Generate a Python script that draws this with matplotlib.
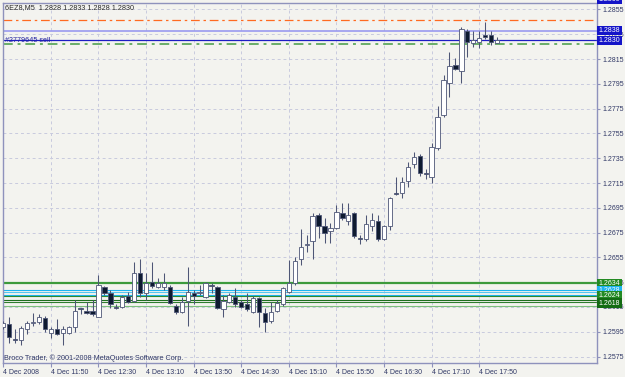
import matplotlib
matplotlib.use('Agg')
import matplotlib.pyplot as plt
from matplotlib.transforms import blended_transform_factory

# ---------------- data ----------------
symbol_title = "6EZ8,M5  1.2828 1.2833 1.2828 1.2830"
order_label = "#2779645 sell"
copyright_text = "Broco Trader, \u00a9 2001-2008 MetaQuotes Software Corp."

opens = [1.2599, 1.2601, 1.2589, 1.2588, 1.2597, 1.2602, 1.2603, 1.2606, 1.2594, 1.2597,
         1.2594, 1.2594, 1.2599, 1.2614, 1.2612, 1.2612, 1.2607, 1.2631, 1.2626, 1.2615,
         1.2615, 1.2624, 1.2620, 1.2642, 1.2626, 1.2635, 1.2631, 1.2631, 1.2631, 1.2616,
         1.2611, 1.2620, 1.2626, 1.2626, 1.2623, 1.2633, 1.2631, 1.2613, 1.2619, 1.2623,
         1.2619, 1.2617, 1.2611, 1.2622, 1.2610, 1.2604, 1.2612, 1.2617, 1.2627, 1.2634,
         1.2654, 1.2665, 1.2668, 1.2689, 1.2680, 1.2676, 1.2679, 1.2691, 1.2684, 1.2691,
         1.2671, 1.2670, 1.2680, 1.2684, 1.2670, 1.2680, 1.2707, 1.2707, 1.2717, 1.2730,
         1.2737, 1.2723, 1.2720, 1.2743, 1.2770, 1.2796, 1.2810, 1.2805, 1.2838, 1.2828,
         1.2829, 1.2834, 1.2834, 1.2828]
highs = [1.2604, 1.2607, 1.2597, 1.2600, 1.2604, 1.2610, 1.2609, 1.2608, 1.2599, 1.2605,
         1.2600, 1.2600, 1.2621, 1.2614, 1.2619, 1.2621, 1.2641, 1.2632, 1.2629, 1.2617,
         1.2625, 1.2627, 1.2651, 1.2654, 1.2642, 1.2651, 1.2638, 1.2642, 1.2633, 1.2617,
         1.2623, 1.2647, 1.2629, 1.2633, 1.2635, 1.2634, 1.2632, 1.2625, 1.2626, 1.2630,
         1.2621, 1.2626, 1.2624, 1.2623, 1.2614, 1.2619, 1.2621, 1.2631, 1.2653, 1.2655,
         1.2678, 1.2673, 1.2691, 1.2691, 1.2687, 1.2683, 1.2697, 1.2699, 1.2699, 1.2692,
         1.2673, 1.2689, 1.2691, 1.2689, 1.2681, 1.2704, 1.2720, 1.2720, 1.2732, 1.2740,
         1.2738, 1.2726, 1.2747, 1.2777, 1.2802, 1.2821, 1.2816, 1.2841, 1.2839, 1.2838,
         1.2838, 1.2845, 1.2838, 1.2833]
lows = [1.2597, 1.2586, 1.2586, 1.2584, 1.2593, 1.2600, 1.2601, 1.2595, 1.2590, 1.2592,
        1.2584, 1.2593, 1.2595, 1.2609, 1.2609, 1.2608, 1.2607, 1.2625, 1.2614, 1.2613,
        1.2614, 1.2618, 1.2619, 1.2623, 1.2621, 1.2630, 1.2630, 1.2629, 1.2617, 1.2609,
        1.2610, 1.2600, 1.2617, 1.2625, 1.2622, 1.2626, 1.2613, 1.2607, 1.2618, 1.2615,
        1.2614, 1.2612, 1.2610, 1.2599, 1.2595, 1.2602, 1.2611, 1.2616, 1.2626, 1.2633,
        1.2649, 1.2659, 1.2654, 1.2671, 1.2667, 1.2667, 1.2678, 1.2685, 1.2681, 1.2671,
        1.2666, 1.2668, 1.2676, 1.2668, 1.2669, 1.2677, 1.2705, 1.2703, 1.2712, 1.2727,
        1.2721, 1.2718, 1.2715, 1.2742, 1.2768, 1.2784, 1.2806, 1.2796, 1.2817, 1.2825,
        1.2824, 1.2831, 1.2826, 1.2828]
closes = [1.2602, 1.2591, 1.2588, 1.2598, 1.2602, 1.2603, 1.2607, 1.2597, 1.2597, 1.2593,
          1.2597, 1.2599, 1.2612, 1.2613, 1.2610, 1.2609, 1.2633, 1.2626, 1.2617, 1.2614,
          1.2623, 1.2619, 1.2642, 1.2626, 1.2634, 1.2632, 1.2634, 1.2634, 1.2618, 1.2611,
          1.2619, 1.2627, 1.2624, 1.2627, 1.2634, 1.2632, 1.2614, 1.2620, 1.2625, 1.2617,
          1.2615, 1.2613, 1.2622, 1.2611, 1.2603, 1.2611, 1.2618, 1.2630, 1.2634, 1.2652,
          1.2663, 1.2666, 1.2688, 1.2680, 1.2675, 1.2679, 1.2692, 1.2687, 1.2689, 1.2672,
          1.2670, 1.2682, 1.2685, 1.2670, 1.2680, 1.2703, 1.2706, 1.2716, 1.2728, 1.2736,
          1.2723, 1.2722, 1.2744, 1.2768, 1.2798, 1.2809, 1.2807, 1.2839, 1.2829, 1.2830,
          1.2832, 1.2833, 1.2829, 1.2830]

time_tick_bars = [0, 8, 16, 24, 32, 40, 48, 56, 64, 72, 80]
time_labels = ["4 Dec 2008", "4 Dec 11:50", "4 Dec 12:30", "4 Dec 13:10", "4 Dec 13:50",
               "4 Dec 14:30", "4 Dec 15:10", "4 Dec 15:50", "4 Dec 16:30", "4 Dec 17:10",
               "4 Dec 17:50"]
price_ticks = [1.2575, 1.2595, 1.2615, 1.2635, 1.2655, 1.2675, 1.2695, 1.2715, 1.2735,
               1.2755, 1.2775, 1.2795, 1.2815, 1.2835, 1.2855]
price_tick_labels = ["1.2575", "1.2595", "1.2615", "1.2635", "1.2655", "1.2675", "1.2695",
                     "1.2715", "1.2735", "1.2755", "1.2775", "1.2795", "1.2815", "1.2835",
                     "1.2855"]

# support / resistance levels (bottom cluster)
level_prices = [1.2634, 1.2629, 1.2627, 1.2625, 1.2624, 1.2621, 1.2619, 1.2616]
level_colors = ['#3c9a3c', '#1eb4f0', '#55c8f0', '#1eb4f0', '#2e8b2e', '#1e6e1e', '#2e7d2e', '#7cc07c']
level_widths = [1.6, 0.8, 0.8, 0.8, 0.8, 0.8, 0.8, 0.8]

order_price = 1.2830
upper_line_price = 1.2838
top_line_price = 1.2860
orange_price = 1.28465
green_price = 1.2827

# right-axis boxed labels
box_prices = [1.2863, 1.2838, 1.2830, 1.2634, 1.2628, 1.2624, 1.2618]
box_texts = ["1.2860", "1.2838", "1.2830", "1.2634", "1.2628", "1.2624", "1.2618"]
box_colors = ['#1414c8', '#1414c8', '#1414c8', '#238a23', '#1eb4f0', '#238a23', '#136b13']

# ---------------- style ----------------
W, H = 625, 377
bg = '#f3f3ef'
axis_col = '#8e92bc'
text_col = '#303866'
grid_col = '#c8cade'
edge_col = '#4e5676'
bear_fill = '#0e1a30'
font = 'Liberation Sans'

fig = plt.figure(figsize=(W / 100, H / 100), dpi=100, facecolor=bg)
ax = fig.add_axes([3 / W, 14 / H, 594 / W, 360 / H], facecolor=bg)

ax.set_xlim(-0.05, 99.8)
ax.set_ylim(1.25698, 1.28602)

# ticks & grid
ax.set_xticks(time_tick_bars)
ax.set_xticklabels(time_labels, fontsize=5, color=text_col, family=font, ha='left')
ax.set_yticks(price_ticks)
ax.set_yticklabels(price_tick_labels, fontsize=5, color=text_col, family=font)
ax.yaxis.tick_right()
ax.tick_params(axis='x', direction='out', length=3, width=0.8, color=axis_col, pad=1.5)
ax.tick_params(axis='y', direction='out', length=2.5, width=0.8, color=axis_col, pad=1.5)
for lab in ax.get_xticklabels():
    lab.set_horizontalalignment('left')
ax.grid(True, color=grid_col, linestyle=(0, (3, 3)), linewidth=0.7, zorder=0)
ax.set_axisbelow(True)
for s in ax.spines.values():
    s.set_color(axis_col)
    s.set_linewidth(1.0)

# levels
for p, c, lw in zip(level_prices, level_colors, level_widths):
    ax.axhline(p, color=c, linewidth=lw, zorder=1)

ax.axhline(top_line_price, color='#9898ec', linewidth=1.2, zorder=1)
ax.axhline(orange_price, color='#ff6a20', linewidth=0.9, linestyle=(0, (7, 3, 2, 3)), zorder=1)
ax.axhline(upper_line_price, color='#9a9af0', linewidth=1.2, zorder=1)
ax.axhline(order_price, color='#1c1cc4', linewidth=0.9, zorder=1)
ax.axhline(green_price, color='#6aae6a', linewidth=1.4, linestyle=(0, (5, 2.5, 1.5, 2.5)), zorder=1)

# candles
xs = list(range(len(opens)))
ax.vlines(xs, lows, highs, color=edge_col, linewidth=0.75, zorder=3)
bottoms = [min(o, c) for o, c in zip(opens, closes)]
heights = [max(abs(c - o), 0.00006) for o, c in zip(opens, closes)]
fills = ['#ffffff' if c >= o else bear_fill for o, c in zip(opens, closes)]
ax.bar(xs, heights, bottom=bottoms, width=0.72, color=fills, edgecolor=edge_col,
       linewidth=0.6, zorder=4)

# texts
fig.text(5 / W, 1 - 8 / H, symbol_title, fontsize=5.2, color='#2a2a2a', family=font,
         va='center', ha='left')
fig.text(5 / W, 1 - 41 / H, order_label, fontsize=5.2, color='#2424a0', family=font,
         va='center', ha='left', zorder=6)
fig.text(4 / W, 1 - 358 / H, copyright_text, fontsize=5.2, color=text_col, family=font,
         va='center', ha='left')

trans = blended_transform_factory(ax.transAxes, ax.transData)
for p, t, c in zip(box_prices, box_texts, box_colors):
    ax.text(1.003, p, t, transform=trans, fontsize=5, family=font, color='white',
            ha='left', va='center', clip_on=False, zorder=10,
            bbox=dict(boxstyle='square,pad=0.2', fc=c, ec='none'))

fig.savefig('out.png', dpi=100, facecolor=bg)
